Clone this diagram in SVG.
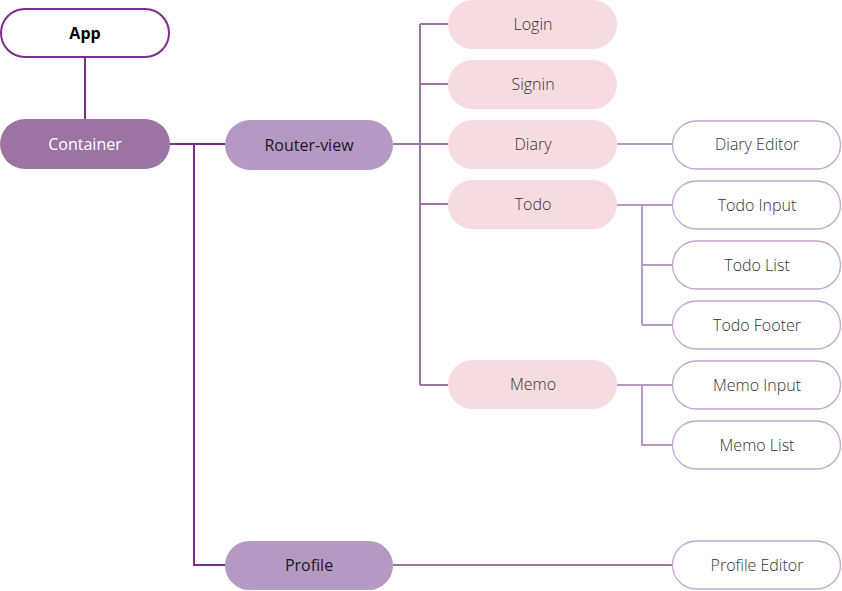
<svg xmlns="http://www.w3.org/2000/svg" width="842" height="591" viewBox="0 0 842 591">
<style>
text{font-family:"Open Sans","Noto Sans",sans-serif;font-size:16px;text-anchor:middle;dominant-baseline:central;fill:#333;font-weight:300}
.b{font-weight:400;fill:#1a1a1a}
.l1{stroke:#7b2d8b;stroke-width:2;fill:none}
.l2{stroke:#9b74a3;stroke-width:2;fill:none}
.l3{stroke:#b49ac3;stroke-width:2;fill:none}
.pink{fill:#f6dce0}
.mid{fill:#b49ac3}
.leaf{fill:#fff;stroke:#c2a6cf;stroke-width:1.3}
</style>
<rect width="842" height="591" fill="#fff"/>
<g id="connectors">
<path class="l1" d="M85 57V119"/>
<path class="l1" d="M170 144H225M194 144V565H225"/>
<path class="l2" d="M393 144H448M420 24V385M420 24H448M420 84H448M420 204H448M420 385H448"/>
<path class="l3" d="M617 144H672"/>
<path class="l3" d="M617 205H672M642 205V325M642 265H672M642 325H672"/>
<path class="l3" d="M617 385H672M642 385V445H672"/>
<path class="l2" d="M393 565H672"/>
</g>
<g id="app"><rect x="1" y="9" width="168" height="48" rx="24" fill="#fff" stroke="#7b2d8b" stroke-width="2"/><text x="85" y="33" style="font-weight:bold;fill:#000">App</text></g>
<g id="container"><rect x="0" y="119" width="170" height="50" rx="25" fill="#9b74a3"/><text x="85" y="143.5" class="b" style="fill:#fff">Container</text></g>
<g id="router-view"><rect x="225" y="120" width="168" height="50" rx="25" class="mid"/><text x="309" y="144.5" class="b">Router-view</text></g>
<g id="profile"><rect x="225" y="541" width="168" height="49" rx="24.5" class="mid"/><text x="309" y="565" class="b">Profile</text></g>
<g id="login"><rect x="448" y="0" width="169" height="49" rx="24.5" class="pink"/><text x="533" y="24">Login</text></g>
<g id="signin"><rect x="448" y="60" width="169" height="49" rx="24.5" class="pink"/><text x="533" y="84">Signin</text></g>
<g id="diary"><rect x="448" y="120" width="169" height="49" rx="24.5" class="pink"/><text x="533" y="144">Diary</text></g>
<g id="todo"><rect x="448" y="180" width="169" height="49" rx="24.5" class="pink"/><text x="533" y="204">Todo</text></g>
<g id="memo"><rect x="448" y="360" width="169" height="49" rx="24.5" class="pink"/><text x="533" y="384">Memo</text></g>
<g id="diary-editor"><rect x="672.5" y="121" width="168" height="48" rx="24" class="leaf"/><text x="757" y="144">Diary Editor</text></g>
<g id="todo-input"><rect x="672.5" y="181" width="168" height="48" rx="24" class="leaf"/><text x="757" y="205">Todo Input</text></g>
<g id="todo-list"><rect x="672.5" y="241" width="168" height="48" rx="24" class="leaf"/><text x="757" y="265">Todo List</text></g>
<g id="todo-footer"><rect x="672.5" y="301" width="168" height="48" rx="24" class="leaf"/><text x="757" y="325">Todo Footer</text></g>
<g id="memo-input"><rect x="672.5" y="361" width="168" height="48" rx="24" class="leaf"/><text x="757" y="385">Memo Input</text></g>
<g id="memo-list"><rect x="672.5" y="421" width="168" height="48" rx="24" class="leaf"/><text x="757" y="445">Memo List</text></g>
<g id="profile-editor"><rect x="672.5" y="541" width="168" height="48" rx="24" class="leaf"/><text x="757" y="565">Profile Editor</text></g>
</svg>
